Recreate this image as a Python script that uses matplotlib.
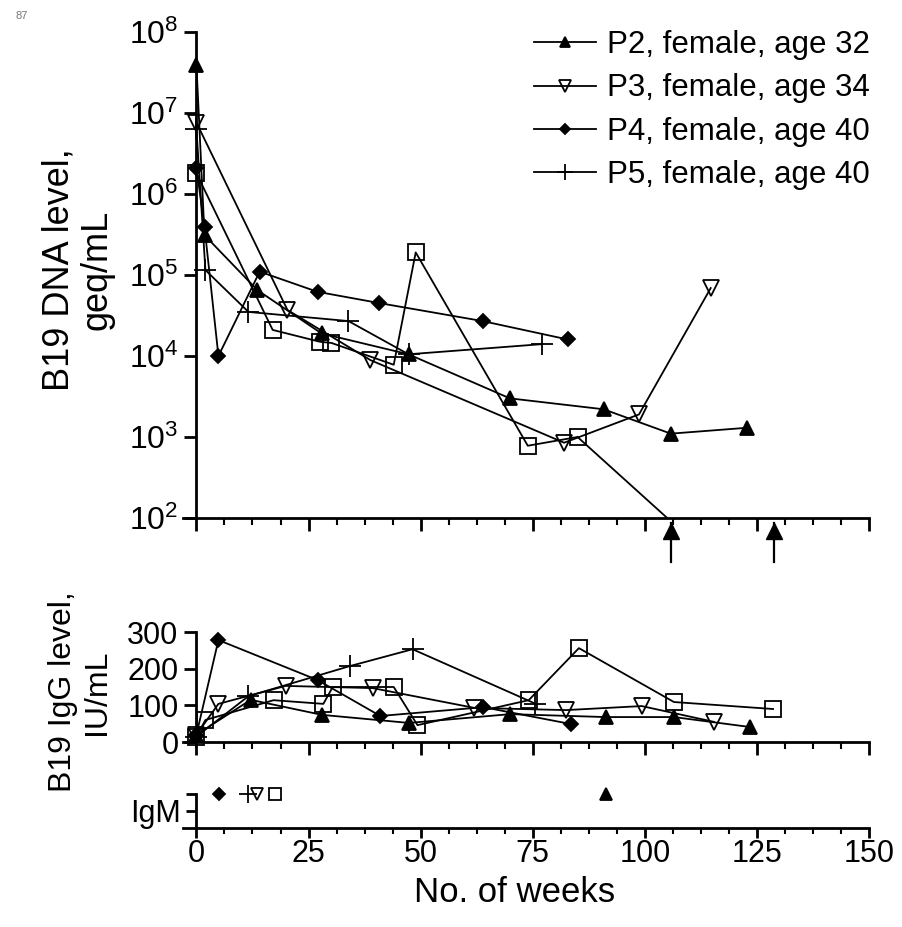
import matplotlib
matplotlib.use('Agg')
import matplotlib.pyplot as plt
from matplotlib.ticker import FixedLocator, NullLocator
from matplotlib.transforms import blended_transform_factory
import numpy as np

plt.rcParams['font.family'] = ['Liberation Sans', 'DejaVu Sans']
plt.rcParams['mathtext.fontset'] = 'custom'
plt.rcParams['mathtext.rm'] = 'Liberation Sans'
plt.rcParams['mathtext.it'] = 'Liberation Sans:italic'

# B19 DNA (geq/mL)
p2_dna_wk = [0, 1.8, 13.6, 27.9, 47.3, 69.9, 90.8, 105.8, 122.8]
p2_dna = [3.9e7, 3.1e5, 6.5e4, 1.9e4, 1.05e4, 3.0e3, 2.2e3, 1.1e3, 1.3e3]
p3_dna_wk = [0, 20.3, 38.8, 82, 98.7, 114.7]
p3_dna = [7.6e6, 3.7e4, 8.9e3, 8.5e2, 1.9e3, 6.9e4]
p4_dna_wk = [0, 1.8, 4.9, 14.1, 27, 40.8, 63.8, 82.8]
p4_dna = [2.1e6, 3.9e5, 1.0e4, 1.1e5, 6.2e4, 4.5e4, 2.7e4, 1.6e4]
p5_dna_wk = [0, 2, 11.6, 33.9, 47.3, 77]
p5_dna = [6.3e6, 1.15e5, 3.5e4, 2.7e4, 1.05e4, 1.4e4]
sq_dna_wk = [0, 17, 27.5, 30.1, 44, 48.9, 73.9, 85]
sq_dna = [1.8e6, 2.1e4, 1.5e4, 1.45e4, 7.8e3, 1.9e5, 7.8e2, 1.0e3]
sq_undetect_wk = 105
detect_limit = 1e2
arrow_wk = [105.8, 128.8]

# B19 IgG (IU/mL)
p2_igg_wk = [0, 12.1, 28, 47.4, 70, 91.3, 106.5, 123.4]
p2_igg = [20, 115, 74, 52, 76, 68, 68, 41]
p3_igg_wk = [0, 4.9, 19.9, 39.3, 62, 82.4, 99.3, 115.4]
p3_igg = [20, 104, 153, 147, 93, 87, 98, 55]
p4_igg_wk = [0, 4.9, 27, 41, 64, 83.5]
p4_igg = [20, 278, 169, 71, 95, 49]
p5_igg_wk = [0, 11.6, 34.2, 48.2, 75.5]
p5_igg = [15, 125, 207, 253, 105]
sq_igg_wk = [0, 2, 17.2, 28.3, 30.4, 44, 49.3, 74.1, 85.3, 106.5, 128.6]
sq_igg = [15, 60, 114, 104, 150, 150, 46, 114, 256, 109, 90]

# IgM positive
igm_wk = {'P2': 91.3, 'P3': 13.4, 'P4': 5.0, 'P5': 11.6, 'sq': 17.6}

labels = {'P2': 'P2, female, age 32', 'P3': 'P3, female, age 34',
          'P4': 'P4, female, age 40', 'P5': 'P5, female, age 40'}

styles = {
    'P2': dict(marker='^', ms=10, mfc='black'),
    'P3': dict(marker='v', ms=11, mfc='none'),
    'P4': dict(marker='D', ms=7, mfc='black'),
    'P5': dict(marker='+', ms=16),
    'sq': dict(marker='s', ms=11, mfc='none'),
}

W, H = 903, 927
fig = plt.figure(figsize=(W / 100, H / 100), dpi=100)


def px_axes(left, top, right, bottom):
    return fig.add_axes([left / W, 1 - bottom / H, (right - left) / W, (bottom - top) / H])


def style_axes(ax):
    ax.spines['top'].set_visible(False)
    ax.spines['right'].set_visible(False)
    ax.spines['left'].set_position(('data', 0))
    for s in ('left', 'bottom'):
        ax.spines[s].set_linewidth(2)
    ax.set_xlim(-3, 150)
    ax.xaxis.set_major_locator(FixedLocator(np.arange(0, 151, 25)))
    ax.xaxis.set_minor_locator(FixedLocator(np.arange(0, 151, 6.25)))
    ax.tick_params(which='major', direction='out', length=9, width=2, labelsize=22, pad=4)
    ax.tick_params(which='minor', direction='out', length=5, width=1.5)
    ax.yaxis.set_minor_locator(NullLocator())
    ax.patch.set_alpha(0)


line_kw = dict(color='black', lw=1.3, mew=1.3, mec='black')

ax1 = px_axes(183, 32, 869, 518)
ax2 = px_axes(183, 632, 869, 742)
ax3 = px_axes(183, 792, 869, 828)

# top: DNA
ax1.set_yscale('log')
handles = []
for key, wk, val in [('P2', p2_dna_wk, p2_dna), ('P3', p3_dna_wk, p3_dna),
                     ('P4', p4_dna_wk, p4_dna), ('P5', p5_dna_wk, p5_dna),
                     ('sq', sq_dna_wk, sq_dna)]:
    h, = ax1.plot(wk, val, label=labels.get(key), **styles[key], **line_kw)
    if key != 'sq':
        handles.append(h)
ax1.plot([sq_dna_wk[-1], sq_undetect_wk], [sq_dna[-1], detect_limit], color='black', lw=1.3)
ax1.set_ylim(1e2, 1e8)
style_axes(ax1)
ax1.yaxis.set_major_locator(FixedLocator([10.0 ** k for k in range(2, 9)]))
ax1.yaxis.set_minor_locator(NullLocator())
ax1.tick_params(axis='y', labelsize=23)
ax1.tick_params(axis='x', labelbottom=False)

trans = blended_transform_factory(ax1.transData, ax1.transAxes)
for x in arrow_wk:
    ax1.plot([x, x], [-0.01, -0.09], transform=trans, clip_on=False, color='black', lw=1.6)
    ax1.plot([x], [-0.026], marker='^', ms=11, color='black', transform=trans, clip_on=False)

# middle: IgG
for key, wk, val in [('P2', p2_igg_wk, p2_igg), ('P3', p3_igg_wk, p3_igg),
                     ('P4', p4_igg_wk, p4_igg), ('P5', p5_igg_wk, p5_igg),
                     ('sq', sq_igg_wk, sq_igg)]:
    ax2.plot(wk, val, clip_on=False, **styles[key], **line_kw)
ax2.set_ylim(0, 300)
style_axes(ax2)
ax2.yaxis.set_major_locator(FixedLocator([0, 100, 200, 300]))
ax2.tick_params(axis='x', labelbottom=False)

# bottom: IgM
for key, wk in igm_wk.items():
    st = dict(styles[key])
    st['ms'] = st['ms'] * 0.85
    ax3.plot([wk], [2], clip_on=False, ls='none', **st, **line_kw)
ax3.set_ylim(0, 2.1)
style_axes(ax3)
ax3.spines['left'].set_bounds(0, 2)
ax3.yaxis.set_major_locator(FixedLocator([1, 2]))
ax3.set_yticklabels(['IgM', ''])
ax3.tick_params(axis='y', length=7)
ax3.tick_params(axis='x', which='major', length=7, pad=1)
ax3.tick_params(axis='x', which='minor', length=4)

fig.legend(handles, [labels[k] for k in ('P2', 'P3', 'P4', 'P5')],
           loc='upper left', bbox_to_anchor=(534 / W, 1 - 30 / H), frameon=False,
           fontsize=22.5, handlelength=2.0, handletextpad=0.35, labelspacing=0.43,
           borderpad=0, borderaxespad=0, markerscale=0.75)

fig.text(78 / W, 1 - 270 / H, 'B19 DNA level,\ngeq/mL', rotation=90, ha='center',
         va='center', fontsize=26, multialignment='center', linespacing=1.1)
fig.text(80 / W, 1 - 692 / H, 'B19 IgG level,\nIU/mL', rotation=90, ha='center',
         va='center', fontsize=23, multialignment='center', linespacing=1.2)
fig.text(515 / W, 1 - 893 / H, 'No. of weeks', ha='center', va='center', fontsize=25)
fig.text(16 / W, 1 - 16 / H, '87', ha='left', va='center', fontsize=8, color='#777777')

fig.savefig('out.png', dpi=100)
